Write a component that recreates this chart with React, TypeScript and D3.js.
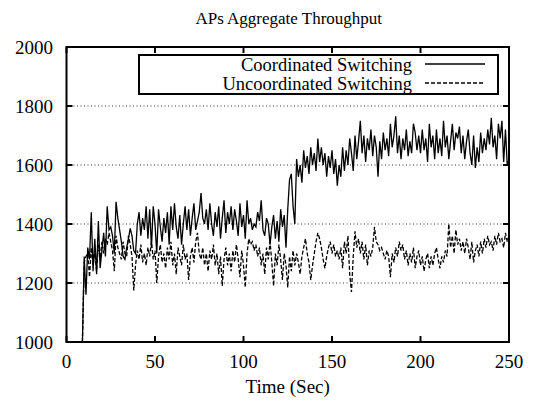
import React from "react";
import * as d3 from "d3";

const startTime = 9;
// Coordinated switching, t = 9..250 (1 s steps)
const coordinated = [
  1000,1290,1160,1320,1280,1440,1240,1350,1230,1410,
  1250,1310,1370,1290,1460,1380,1390,1360,1300,1475,
  1420,1380,1340,1290,1280,1320,1350,1385,1360,1310,
  1300,1400,1440,1360,1420,1380,1460,1350,1450,1320,
  1460,1400,1300,1450,1390,1340,1420,1370,1440,1330,
  1460,1380,1470,1390,1350,1430,1330,1400,1460,1380,
  1450,1360,1420,1470,1380,1410,1440,1505,1420,1400,
  1450,1380,1470,1400,1360,1440,1390,1460,1350,1420,
  1480,1370,1440,1400,1460,1380,1450,1410,1360,1470,
  1390,1430,1350,1480,1400,1420,1380,1400,1390,1440,
  1410,1480,1380,1360,1420,1400,1330,1390,1430,1350,
  1410,1340,1450,1390,1430,1320,1450,1550,1570,1460,
  1400,1620,1560,1600,1540,1650,1590,1630,1570,1660,
  1600,1640,1580,1690,1610,1660,1600,1640,1560,1630,
  1590,1650,1570,1620,1530,1600,1560,1660,1580,1650,
  1600,1690,1640,1580,1700,1620,1680,1750,1640,1700,
  1610,1690,1650,1720,1630,1700,1660,1560,1680,1620,
  1710,1650,1690,1630,1740,1660,1700,1765,1640,1700,
  1620,1690,1650,1720,1630,1680,1640,1740,1710,1650,
  1700,1640,1720,1650,1690,1610,1740,1660,1700,1620,
  1720,1640,1690,1630,1750,1660,1700,1620,1680,1740,
  1650,1710,1690,1730,1640,1700,1620,1680,1720,1640,
  1600,1700,1590,1660,1610,1710,1640,1690,1650,1720,
  1670,1760,1660,1700,1620,1740,1690,1750,1610,1720,
  1600,1620,
];
// Uncoordinated switching, t = 9..250
const uncoordinated = [
  1000,1270,1290,1300,1220,1320,1260,1300,1240,1330,
  1280,1340,1300,1350,1330,1370,1340,1310,1240,1360,
  1320,1300,1280,1340,1300,1290,1360,1330,1290,1175,
  1260,1310,1280,1330,1270,1300,1260,1320,1290,1340,
  1280,1310,1200,1290,1330,1270,1300,1250,1320,1280,
  1340,1260,1300,1230,1320,1290,1260,1330,1280,1300,
  1210,1290,1320,1270,1340,1370,1300,1280,1320,1260,
  1300,1240,1310,1280,1330,1260,1300,1230,1290,1190,
  1280,1320,1260,1300,1240,1310,1270,1330,1280,1220,
  1310,1260,1185,1300,1350,1330,1340,1310,1330,1290,
  1320,1260,1300,1230,1320,1280,1340,1270,1190,1300,
  1260,1330,1280,1210,1300,1260,1185,1290,1240,1310,
  1260,1300,1270,1230,1290,1320,1350,1300,1270,1210,
  1260,1300,1340,1370,1350,1320,1280,1250,1290,1320,
  1340,1300,1330,1290,1310,1280,1320,1250,1340,1300,
  1360,1230,1170,1290,1375,1320,1350,1300,1340,1280,
  1330,1260,1310,1290,1320,1390,1340,1330,1310,1320,
  1300,1280,1310,1290,1220,1300,1270,1320,1290,1340,
  1310,1330,1280,1310,1260,1300,1270,1320,1250,1290,
  1310,1260,1290,1240,1280,1300,1250,1290,1260,1300,
  1320,1280,1250,1290,1270,1310,1290,1400,1320,1360,
  1300,1380,1330,1350,1310,1340,1300,1350,1320,1280,
  1340,1270,1310,1330,1290,1340,1300,1350,1320,1360,
  1330,1340,1310,1360,1330,1370,1340,1350,1320,1370,
  1340,1360,
];
const xTicks = [0, 50, 100, 150, 200, 250];
const yTicks = [1000, 1200, 1400, 1600, 1800, 2000];
const gridValues = [1200, 1400, 1600, 1800];
const seriesNames = ["Coordinated Switching", "Uncoordinated Switching"];
const title = "APs Aggregate Throughput";
const xLabel = "Time (Sec)";

const W = 534, H = 405;
const left = 66.5, right = 509, top = 47, bottom = 342;
const FS = 19;
const font: React.CSSProperties = {
  fontFamily: '"Liberation Serif", "Times New Roman", Times, "DejaVu Serif", serif',
  fontSize: FS,
};

export default function App() {
  const x = d3.scaleLinear().domain([0, 250]).range([left, right]);
  const y = d3.scaleLinear().domain([1000, 2000]).range([bottom, top]);
  const line = d3
    .line<number>()
    .x((_, i) => x(startTime + i))
    .y((d) => y(d));

  return (
    <div style={{ position: "absolute", left: 0, top: 0 }}>
      <svg width={W} height={H} style={{ display: "block", background: "#fff" }}>
        <text x={(left + right) / 2 + 1} y={24} textAnchor="middle" style={{ ...font, fontSize: 17 }}>
          {title}
        </text>
        {gridValues.map((v) => (
          <line key={"g" + v} x1={left} x2={right} y1={y(v)} y2={y(v)} stroke="#000" strokeWidth={0.8} strokeDasharray="1,2.5" />
        ))}
        <path d={line(uncoordinated) || ""} fill="none" stroke="#000" strokeWidth={1.3} strokeDasharray="4,2" />
        <path d={line(coordinated) || ""} fill="none" stroke="#000" strokeWidth={1.3} />
        {yTicks.map((v) => (
          <g key={"y" + v}>
            <line x1={left} x2={left + 6} y1={y(v)} y2={y(v)} stroke="#000" strokeWidth={2} />
            <line x1={right} x2={right - 6} y1={y(v)} y2={y(v)} stroke="#000" strokeWidth={2} />
            <text x={53} y={y(v)} dy="0.35em" textAnchor="end" style={font}>
              {v}
            </text>
          </g>
        ))}
        {xTicks.map((v) => (
          <g key={"x" + v}>
            <line x1={x(v)} x2={x(v)} y1={bottom} y2={bottom - 6} stroke="#000" strokeWidth={2} />
            <line x1={x(v)} x2={x(v)} y1={top} y2={top + 6} stroke="#000" strokeWidth={2} />
            <text x={x(v)} y={368} textAnchor="middle" style={font}>
              {v}
            </text>
          </g>
        ))}
        <rect x={left} y={top} width={right - left} height={bottom - top} fill="none" stroke="#000" strokeWidth={2} />
        <rect x={139} y={55} width={359} height={39} fill="#fff" stroke="#000" strokeWidth={2} />
        <text x={412} y={65} dy="0.35em" textAnchor="end" style={{ ...font, fontSize: 18.5 }}>
          {seriesNames[0]}
        </text>
        <line x1={425} x2={485} y1={64} y2={64} stroke="#000" strokeWidth={1.3} />
        <text x={412} y={83.5} dy="0.35em" textAnchor="end" style={{ ...font, fontSize: 18.5 }}>
          {seriesNames[1]}
        </text>
        <line x1={425} x2={485} y1={83} y2={83} stroke="#000" strokeWidth={1.3} strokeDasharray="4,2" />
        <text x={(left + right) / 2} y={393} textAnchor="middle" style={font}>
          {xLabel}
        </text>
      </svg>
    </div>
  );
}
